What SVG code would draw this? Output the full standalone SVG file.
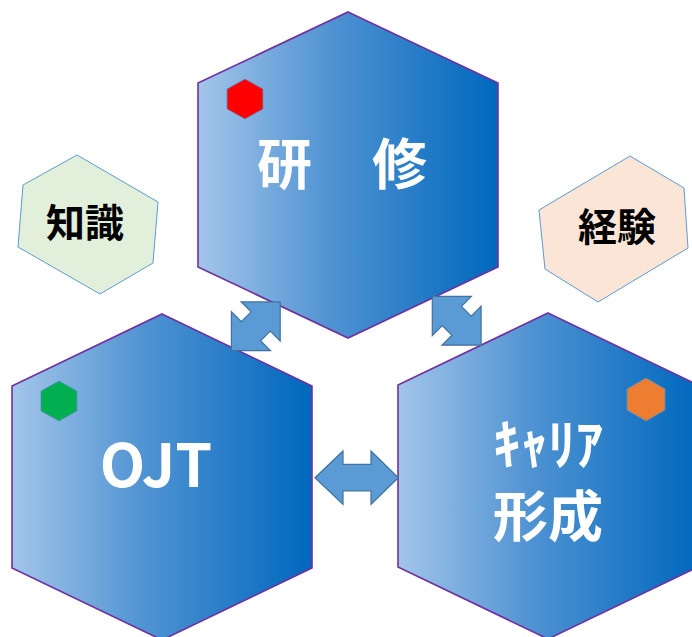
<svg xmlns="http://www.w3.org/2000/svg" width="692" height="637" viewBox="0 0 692 637">
  <defs>
    <linearGradient id="blueFill" x1="0" y1="0" x2="1" y2="0">
      <stop offset="0" stop-color="#a3c5e9"/>
      <stop offset="0.45" stop-color="#4e92d2"/>
      <stop offset="1" stop-color="#0068bd"/>
    </linearGradient>
    <!-- double-headed block arrow, axis along x, centred on origin -->
    <polygon id="dblArrowShort" points="34.5,0 6.9,-27.6 6.9,-13.6 -6.9,-13.6 -6.9,-27.6 -34.5,0 -6.9,27.6 -6.9,13.6 6.9,13.6 6.9,27.6"/>
  </defs>
  <style>
    .big { fill: url(#blueFill); stroke: #7030a0; stroke-width: 1.6; }
    .tag { stroke: #5b8fc8; stroke-width: 0.8; }
    .side { stroke: #5b9bd5; stroke-width: 1; }
    .arrow { fill: #5b9bd5; stroke: #41719c; stroke-width: 1.2; }
    .white { fill: #ffffff; font-family: "Noto Sans CJK JP", "Noto Sans", sans-serif; font-weight: 700; text-anchor: middle; }
    .black { fill: #000000; font-family: "Noto Sans CJK JP", "Noto Sans", sans-serif; font-weight: 700; text-anchor: middle; }
  </style>

  <rect width="692" height="637" fill="#ffffff"/>

  <!-- knowledge -->
  <g id="chishiki">
    <polygon class="side" fill="#e2efda" points="77,155 158,202 153,263 100,294 18,247 23,185"/>
    <text class="black" x="85" y="237" font-size="39">知識</text>
  </g>

  <!-- experience -->
  <g id="keiken">
    <polygon class="side" fill="#fbe5d6" points="630,156 684,188 688,248 598,302 545,269 539,210"/>
    <text class="black" x="617" y="241" font-size="39">経験</text>
  </g>

  <!-- training -->
  <g id="kenshu">
    <polygon class="big" points="348,12 498,83 498,267 348,338 198,267 198,83"/>
    <polygon class="tag" fill="#ff0000" points="245,79 263,89 263,109 245,119 227,109 227,89"/>
    <text class="white" y="184" font-size="55"><tspan x="284.5">研</tspan><tspan x="399.5">修</tspan></text>
  </g>

  <!-- on-the-job training -->
  <g id="ojt">
    <polygon class="big" points="162,314 312,386 312,568 162,640 12,568 12,386"/>
    <polygon class="tag" fill="#00b050" points="59,381 77,391 77,411 59,421 41,411 41,391"/>
    <text class="white" x="156" y="487" font-size="59">OJT</text>
  </g>

  <!-- career development -->
  <g id="career">
    <polygon class="big" points="548,313 698,385 698,567 548,639 398,567 398,385"/>
    <polygon class="tag" fill="#ed7d31" points="646,378 665,389 665,410 646,421 627,410 627,389"/>
    <text class="white" font-size="55"><tspan x="548" y="464">ｷｬﾘｱ</tspan><tspan x="548" y="536">形成</tspan></text>
  </g>

  <!-- connectors -->
  <g id="connectors">
    <use href="#dblArrowShort" class="arrow" transform="translate(255.8,326.3) rotate(-45)"/>
    <use href="#dblArrowShort" class="arrow" transform="translate(456.7,320.8) rotate(45)"/>
    <polygon class="arrow" points="315,477.7 343,451 343,464.4 371,464.4 371,451 398.3,477.7 371,504.4 371,491 343,491 343,504.4"/>
  </g>
</svg>
